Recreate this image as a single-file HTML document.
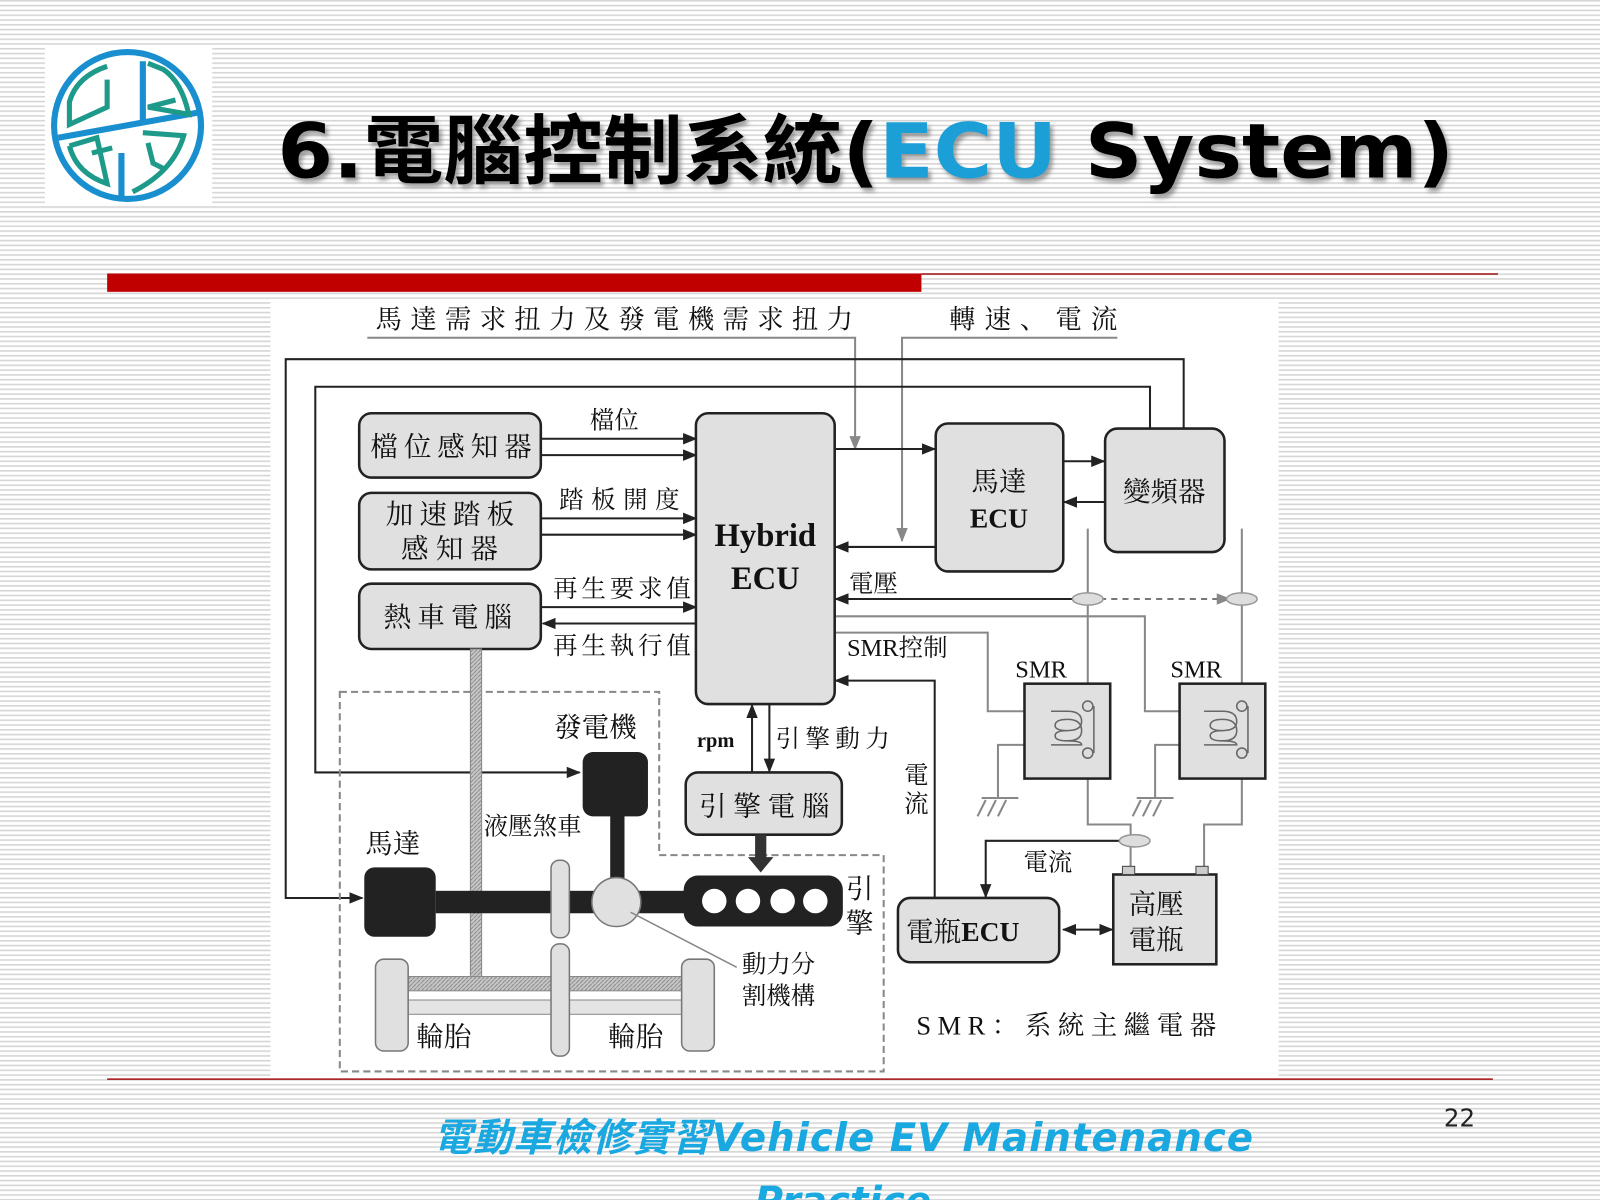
<!DOCTYPE html>
<html><head><meta charset="utf-8">
<style>
html,body{margin:0;padding:0;width:1600px;height:1200px;overflow:hidden;background:#fff;}
svg{display:block}
.cj{font-family:"Liberation Serif","Noto Serif CJK SC","Noto Sans CJK TC",serif;fill:#111;}
</style></head><body>
<svg width="1600" height="1200" viewBox="0 0 1568 1176" preserveAspectRatio="none" xmlns="http://www.w3.org/2000/svg">
<defs>
<pattern id="st" width="10" height="4.7" patternUnits="userSpaceOnUse">
<rect width="10" height="4.7" fill="#fff"/><rect y="0" width="10" height="1.6" fill="#d6d6d6"/>
</pattern>
<pattern id="hx" width="4" height="4" patternUnits="userSpaceOnUse">
<rect width="4" height="4" fill="#c8c8c8"/><path d="M0 4L4 0" stroke="#888" stroke-width="1"/>
</pattern>
<marker id="a" viewBox="0 0 10 10" refX="9" refY="5" markerWidth="7" markerHeight="7" orient="auto-start-reverse"><path d="M0 1L10 5L0 9z" fill="#222"/></marker>
<marker id="ag" viewBox="0 0 10 10" refX="9" refY="5" markerWidth="7" markerHeight="7" orient="auto"><path d="M0 1L10 5L0 9z" fill="#888"/></marker>
<filter id="sh"><feDropShadow dx="3" dy="4" stdDeviation="2" flood-color="#777" flood-opacity="0.7"/></filter>
</defs>
<rect width="1568" height="1176" fill="url(#st)"/>
<!-- logo -->
<rect x="44" y="46" width="164" height="154" fill="#fff"/>
<circle cx="125" cy="123" r="72" fill="none" stroke="#1a8fd0" stroke-width="6"/>
<g fill="none" stroke="#1a8fd0" stroke-width="6"><path d="M57 135L196 110M119 150V196M140 60V118"/></g>
<g fill="none" stroke="#1e9a8a" stroke-width="5"><path d="M105 78V105L68 122L68 100Q75 75 105 65"/><path d="M145 62L160 68Q178 80 185 112L145 105L172 98"/><path d="M68 143L95 135L105 180Q75 170 68 143M90 150L110 145"/><path d="M140 130L180 133Q170 168 130 188M145 140L150 160L160 165"/></g>
<!-- title -->
<text x="272" y="174" font-family="'DejaVu Sans','Noto Sans CJK TC',sans-serif" font-weight="bold" font-size="74" filter="url(#sh)" fill="#000" textLength="1153" lengthAdjust="spacingAndGlyphs">6.電腦控制系統(<tspan fill="#1a9fd6">ECU</tspan> System)</text>
<!-- red bars -->
<rect x="105" y="268" width="798" height="18" fill="#c00000"/>
<line x1="903" y1="268.5" x2="1468" y2="268.5" stroke="#a01010" stroke-width="1.5"/>
<!-- diagram area -->
<rect x="265" y="293" width="988" height="762" fill="#fff"/>
<line x1="105" y1="1057.5" x2="1463" y2="1057.5" stroke="#a01010" stroke-width="1.5"/>

<g class="cj">
<text x="368" y="322" font-size="26" textLength="468">馬達需求扭力及發電機需求扭力</text>
<text x="930" y="322" font-size="26" textLength="165">轉速、電流</text>
</g>
<g stroke="#888" stroke-width="2" fill="none">
<path d="M360 331H838V440" marker-end="url(#ag)"/>
<path d="M1095 331H884V530" marker-end="url(#ag)"/>
</g>
<g stroke="#222" stroke-width="2" fill="none">
<path d="M1160 420V352H280V880H355" marker-end="url(#a)"/>
<path d="M1127 420V379H309V757H568" marker-end="url(#a)"/>
<path d="M530 430H682" marker-end="url(#a)"/>
<path d="M530 446H682" marker-end="url(#a)"/>
<path d="M530 508H682" marker-end="url(#a)"/>
<path d="M530 524H682" marker-end="url(#a)"/>
<path d="M530 595H682" marker-end="url(#a)"/>
<path d="M682 611H532" marker-end="url(#a)"/>
<path d="M818 440H916" marker-end="url(#a)"/>
<path d="M917 536H819" marker-end="url(#a)"/>
<path d="M1042 452H1082" marker-end="url(#a)"/>
<path d="M1083 492H1043" marker-end="url(#a)"/>
<path d="M1055 587H819" marker-end="url(#a)"/>
<path d="M916 880V667H819" marker-end="url(#a)"/>
<path d="M737 757V691" marker-end="url(#a)"/>
<path d="M754 690V756" marker-end="url(#a)"/>
<path d="M1100 824H966V879" marker-end="url(#a)"/>
<path d="M1042 911H1090" marker-start="url(#a)" marker-end="url(#a)"/>
</g>
<path d="M1078 587H1205" stroke="#777" stroke-width="2" stroke-dasharray="6 5" marker-start="url(#ag)" marker-end="url(#ag)"/>
<g stroke="#888" stroke-width="2" fill="none">
<path d="M818 604H1122V697H1180"/>
<path d="M818 620H968V697H1030"/>
<path d="M1066 518V808H1108V857"/>
<path d="M1217 518V808H1180V857"/>
<path d="M1030 730H978V782M1180 730H1132V782"/>
<path d="M962 782H998M958 800L966 784M968 800L976 784M978 800L986 784M1114 782H1150M1110 800L1118 784M1120 800L1128 784M1130 800L1138 784"/>
</g>
<g fill="#ddd" stroke="#999" stroke-width="1.5">
<ellipse cx="1066" cy="587" rx="15" ry="6"/><ellipse cx="1217" cy="587" rx="15" ry="6"/><ellipse cx="1112" cy="824" rx="15" ry="6"/>
</g>
<!-- boxes -->
<g fill="#e0e0e0" stroke="#222" stroke-width="2.5">
<rect x="352" y="405" width="178" height="63" rx="12"/>
<rect x="352" y="483" width="178" height="75" rx="12"/>
<rect x="352" y="572" width="178" height="64" rx="12"/>
<rect x="682" y="405" width="136" height="285" rx="12"/>
<rect x="917" y="415" width="125" height="145" rx="12"/>
<rect x="1083" y="420" width="117" height="121" rx="12"/>
<rect x="672" y="757" width="153" height="61" rx="12"/>
<rect x="880" y="880" width="158" height="63" rx="12"/>
<rect x="1091" y="857" width="101" height="88" rx="0"/>
<rect x="1004" y="670" width="84" height="93"/>
<rect x="1156" y="670" width="84" height="93"/>
</g>
<g fill="none" stroke="#666" stroke-width="1.5">
<path d="M1030 697 H1046 Q1060 697 1060 707 Q1060 716 1046 716 Q1034 716 1034 711 Q1034 705 1046 705 Q1060 705 1060 716 Q1060 726 1046 726 Q1034 726 1034 721 Q1034 716 1046 716 M1046 726 Q1060 726 1060 730 H1030"/>
<path d="M1180 697 H1198 Q1212 697 1212 707 Q1212 716 1198 716 Q1186 716 1186 711 Q1186 705 1198 705 Q1212 705 1212 716 Q1212 726 1198 726 Q1186 726 1186 721 Q1186 716 1198 716 M1198 726 Q1212 726 1212 730 H1180"/>
<circle cx="1066" cy="692" r="5" fill="#ddd"/><circle cx="1066" cy="738" r="5" fill="#ddd"/><path d="M1072 692V738"/>
<circle cx="1217" cy="692" r="5" fill="#ddd"/><circle cx="1217" cy="738" r="5" fill="#ddd"/><path d="M1223 692V738"/>
</g>
<rect x="1100" y="849" width="12" height="8" fill="#ccc" stroke="#444"/><rect x="1172" y="849" width="12" height="8" fill="#ccc" stroke="#444"/>
<!-- mechanical -->
<path d="M333 678H646V838H866V1050H333Z" fill="none" stroke="#888" stroke-width="2" stroke-dasharray="7 4"/>
<rect x="461" y="636" width="11" height="325" fill="url(#hx)" stroke="#888"/>
<rect x="384" y="957" width="300" height="14" fill="url(#hx)" stroke="#888"/>
<rect x="384" y="980" width="300" height="14" fill="#e4e4e4" stroke="#888"/>
<rect x="427" y="873" width="250" height="22" fill="#222"/>
<rect x="598" y="790" width="14" height="80" fill="#222"/>
<rect x="357" y="850" width="70" height="68" rx="10" fill="#222"/>
<rect x="571" y="737" width="64" height="63" rx="10" fill="#222"/>
<rect x="670" y="858" width="156" height="50" rx="14" fill="#222"/>
<g fill="#fff"><circle cx="700" cy="883" r="12"/><circle cx="733" cy="883" r="12"/><circle cx="767" cy="883" r="12"/><circle cx="799" cy="883" r="12"/></g>
<rect x="740" y="818" width="11" height="24" fill="#333"/><path d="M733 840H758L745.5 855Z" fill="#333"/>
<g fill="#e0e0e0" stroke="#777" stroke-width="1.5">
<rect x="540" y="843" width="18" height="76" rx="8"/><rect x="540" y="925" width="18" height="110" rx="8"/>
<rect x="368" y="940" width="32" height="90" rx="8"/><rect x="668" y="940" width="32" height="90" rx="8"/>
<circle cx="604" cy="884" r="24"/>
</g>
<path d="M618 894L722 948" stroke="#888" stroke-width="1.5"/>
<!-- labels -->
<g class="cj" font-size="27">
<text x="363" y="447" textLength="158">檔位感知器</text>
<text x="378" y="513" textLength="126">加速踏板</text><text x="393" y="547" textLength="95">感知器</text>
<text x="376" y="614" textLength="126">熱車電腦</text>
<text x="578" y="420" font-size="24">檔位</text>
<text x="548" y="498" font-size="24" textLength="118">踏板開度</text>
<text x="542" y="585" font-size="24" textLength="135">再生要求值</text>
<text x="542" y="641" font-size="24" textLength="135">再生執行值</text>
<text x="750" y="535" font-size="32" font-weight="bold" text-anchor="middle">Hybrid</text>
<text x="750" y="577" font-size="32" font-weight="bold" text-anchor="middle">ECU</text>
<text x="979" y="481" text-anchor="middle">馬達</text>
<text x="979" y="517" font-weight="bold" text-anchor="middle">ECU</text>
<text x="1141" y="491" text-anchor="middle">變頻器</text>
<text x="832" y="580" font-size="24">電壓</text>
<text x="830" y="643" font-size="24">SMR控制</text>
<text x="995" y="664" font-size="24">SMR</text>
<text x="1147" y="664" font-size="24">SMR</text>
<text x="683" y="732" font-size="20" font-weight="bold">rpm</text>
<text x="760" y="732" font-size="24" textLength="112">引擎動力</text>
<text x="886" y="768" font-size="24">電</text><text x="886" y="796" font-size="24">流</text>
<text x="685" y="799" textLength="128">引擎電腦</text>
<text x="1003" y="853" font-size="24">電流</text>
<text x="888" y="922">電瓶<tspan font-weight="bold">ECU</tspan></text>
<text x="1106" y="895">高壓</text><text x="1106" y="930">電瓶</text>
<text x="543" y="722">發電機</text>
<text x="358" y="836">馬達</text>
<text x="474" y="818" font-size="24">液壓煞車</text>
<text x="829" y="880">引</text><text x="829" y="914">擎</text>
<text x="727" y="953" font-size="24">動力分</text><text x="727" y="984" font-size="24">割機構</text>
<text x="408" y="1025">輪胎</text><text x="596" y="1025">輪胎</text>
<text x="898" y="1014" font-size="26" textLength="294">SMR：系統主繼電器</text>
</g>
<!-- footer -->
<text x="425" y="1128" font-family="'DejaVu Sans','Noto Sans CJK TC',sans-serif" font-weight="bold" font-style="italic" font-size="38" fill="#19a8e0" textLength="803" lengthAdjust="spacing">電動車檢修實習Vehicle EV Maintenance</text>
<text x="826" y="1190" text-anchor="middle" font-family="'DejaVu Sans',sans-serif" font-weight="bold" font-style="italic" font-size="38" fill="#19a8e0">Practice</text>
<text x="1415" y="1104" font-family="'DejaVu Sans',sans-serif" font-size="24" fill="#222">22</text>
</svg>
</body></html>
